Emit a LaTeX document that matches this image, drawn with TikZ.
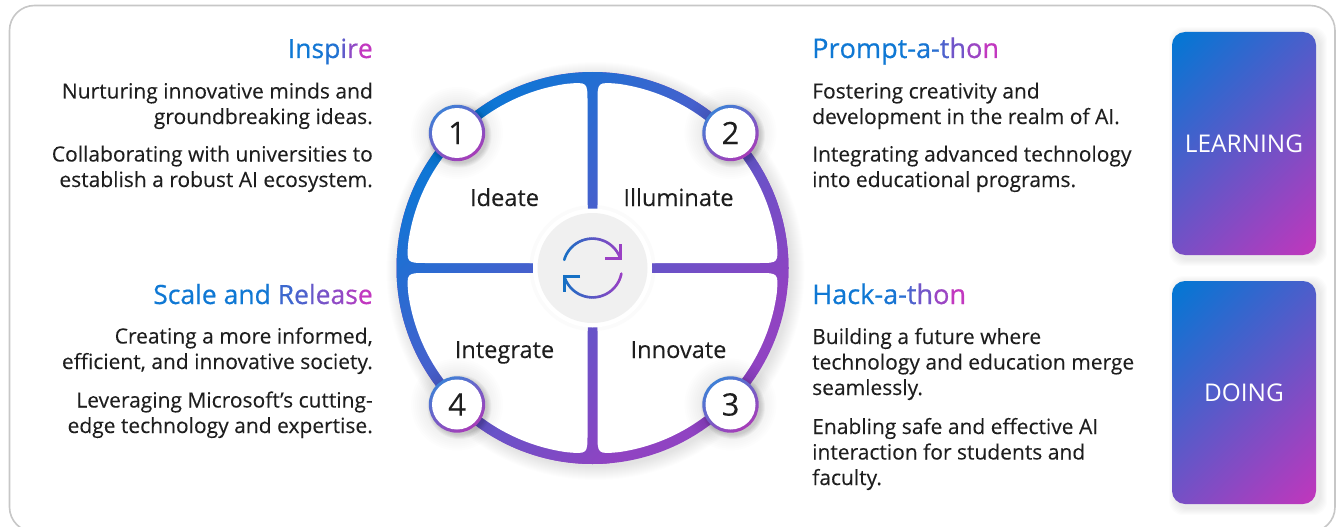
\documentclass[tikz,border=0pt]{standalone}
\usepackage{fontspec}
\setmainfont{Open Sans}
\newfontfamily\bodyfont[FakeBold=0.12]{Open Sans}
\newfontfamily\headfont[FakeBold=0.55]{Open Sans}
\usetikzlibrary{calc}
\definecolor{hb}{HTML}{0F78D4}
\definecolor{hm}{HTML}{C238C0}
\definecolor{ringa}{HTML}{0A78D6}
\definecolor{ringb}{HTML}{9043C2}
\definecolor{carda}{HTML}{0078D4}
\definecolor{cardb}{HTML}{C236BC}
\definecolor{smalla}{HTML}{3F7FD6}
\definecolor{smallb}{HTML}{A83CB8}
\definecolor{ink}{HTML}{1E1E1E}
\definecolor{discgray}{HTML}{F0F0F0}
\definecolor{iconblue}{HTML}{1670C4}
\definecolor{iconpurple}{HTML}{9A40C4}
\newcommand\gc[2]{{\color{hm!#1!hb}#2}}
% angled gradient inside the current clip: cx cy from to halfheight angle colA colB
\newcommand\anglegrad[8]{%
  \begin{scope}[transform canvas={rotate around={#6:(#1,#2)}}]
    \shade[left color=#7,right color=#8] ($(#1,#2)+(#3,-#5)$) rectangle ($(#1,#2)+(#4,#5)$);
  \end{scope}}
\newcommand\softcircle[4]{% x y r count
  \foreach \k in {1,...,#4}{\fill[black,opacity=.009] (#1,#2) circle[radius=#3+\k];}}
\newcommand\numbadge[4]{% name x y digit
  \foreach \k in {0,2,...,16}{\fill[black,opacity=.006] (#2,#3) circle[radius=30+\k];}
  \foreach \k in {1,...,5}{\fill[black,opacity=.03] (#2+2.5,#3-2.5) circle[radius=27+\k];}
  \begin{scope}
    \clip (#2,#3) circle[radius=28.2];
    \anglegrad{#2}{#3}{-28}{28}{40}{-55}{smalla}{smallb}
  \end{scope}
  \node[badge] (#1) at (#2,#3) {#4};}
\newcommand\stagecard[6]{% name x1 ytop x2 ybot text
  \foreach \k in {1,...,7}{\fill[black,opacity=.012,rounded corners=14] (#2+4-\k,#3-2+\k) rectangle (#4+4+\k,#5-4-\k);}
  \begin{scope}
    \clip[rounded corners=13] (#2,#3) rectangle (#4,#5);
    \anglegrad{#2/2+#4/2}{#3/2+#5/2}{-129}{129}{160}{-45}{carda}{cardb}
  \end{scope}
  \node[cardlabel] (#1) at (#2/2+#4/2,#3/2+#5/2) {#6};}
\tikzset{
  x=1pt,y=1pt,
  body/.style={inner sep=0pt,text=ink,font=\bodyfont\fontsize{21}{25.5}\selectfont},
  bodyleft/.style={body,anchor=base west,align=left},
  bodyright/.style={body,anchor=base east,align=right},
  headleft/.style={inner sep=0pt,anchor=base west,font=\headfont\fontsize{27.1}{28}\selectfont},
  headright/.style={inner sep=0pt,anchor=base east,font=\headfont\fontsize{26.5}{28}\selectfont},
  phase/.style={inner sep=0pt,anchor=base,text=ink,font=\bodyfont\fontsize{23.6}{26}\selectfont},
  badge/.style={circle,fill=white,inner sep=0pt,minimum size=50pt,text=ink,font=\bodyfont\fontsize{31}{32}\selectfont},
  cardlabel/.style={inner sep=0pt,text=white,font=\fontsize{24.4}{26}\selectfont},
  iconline/.style={line width=2.6pt,line cap=round,line join=miter},
}
\begin{document}
\begin{tikzpicture}
\useasboundingbox (0,0) rectangle (1341,-527);
\fill[white] (0,0) rectangle (1341,-527);
\begin{scope}
  \clip (0,0) rectangle (1341,-527);
  \draw[draw=black!22,line width=1.6pt,rounded corners=25] (9.5,-5.5) rectangle (1335,-532);
\end{scope}

% wheel shadow
\softcircle{595.5}{-271}{195}{14}
% gradient disc
\fill[ringb] (592.5,-268) circle[radius=196];
\begin{scope}
  \clip (592.5,-268) circle[radius=196];
  \anglegrad{592.5}{-268}{-200}{150}{230}{-45}{ringa}{ringb}
\end{scope}
% four white quadrants, each carrying its part of the faint hub halo
\foreach \a in {0,90,180,270}{
  \begin{scope}[shift={(592.5,-268)},rotate=\a]
    \clip (-5,5) -- (-5,166) .. controls (-5,186) .. (98:186)
      arc[start angle=98,end angle=172,radius=186pt]
      .. controls (-186,5) .. (-166,5) -- cycle;
    \fill[white] (-200,-200) rectangle (200,200);
    \fill[black!1.5] (0,0) circle[radius=63];
  \end{scope}
}
% centre disc
\fill[white] (592.5,-268) circle[radius=59.5];
\node[circle,fill=discgray,minimum size=110pt,inner sep=0pt] (hub) at (592.5,-268) {};
% recycle icon
\foreach \i in {0,...,35}{
  \pgfmathsetmacro\sa{164-\i*4.03}
  \pgfmathsetmacro\sb{164-(\i+1)*4.03}
  \pgfmathtruncatemacro\pc{(cos(\sa)+1)*50}
  \draw[iconline,color=iconpurple!\pc!iconblue] ($(hub)+(\sa:29.4)$) arc[start angle=\sa,end angle=\sb,radius=29.4pt];
}
\foreach \i in {0,...,35}{
  \pgfmathsetmacro\sa{-11-\i*4.25}
  \pgfmathsetmacro\sb{-11-(\i+1)*4.25}
  \pgfmathtruncatemacro\pc{(cos(\sa)+1)*50}
  \draw[iconline,color=iconpurple!\pc!iconblue] ($(hub)+(\sa:29.4)$) arc[start angle=\sa,end angle=\sb,radius=29.4pt];
}
\coordinate (ra) at ($(hub)+(12.5,9.5)$);
\coordinate (rb) at ($(hub)+(27.8,9.5)$);
\coordinate (rc) at ($(hub)+(27.8,24.5)$);
\draw[iconline,line cap=butt,color=iconpurple] (ra) -- (rb) -- (rc);
\coordinate (la) at ($(hub)+(-12.5,-8.5)$);
\coordinate (lb) at ($(hub)+(-27.8,-8.5)$);
\coordinate (lc) at ($(hub)+(-27.8,-23.5)$);
\draw[iconline,line cap=butt,color=iconblue] (la) -- (lb) -- (lc);

% phase labels
\node[phase] (ideate) at (504.5,-206) {Ideate};
\node[phase] (illuminate) at (678.5,-206) {Illuminate};
\node[phase] (integrate) at (504.5,-358) {Integrate};
\node[phase] (innovate) at (678.5,-358) {Innovate};

% number badges
\numbadge{n1}{457}{-133}{1}
\numbadge{n2}{730.5}{-133}{2}
\numbadge{n3}{730.5}{-404.5}{3}
\numbadge{n4}{457}{-404.5}{4}

% left column
\node[headright] (h1) at (373,-58) {\gc{0}{I}\gc{0}{n}\gc{2}{s}\gc{10}{p}\gc{45}{i}\gc{72}{r}\gc{100}{e}};
\node[bodyright] (t1a) at (373,-124) {Nurturing innovative minds and\\groundbreaking ideas.};
\node[bodyright] (t1b) at (373,-187) {Collaborating with universities to\\establish a robust AI ecosystem.};
\node[headright] (h4) at (373,-304) {\gc{0}{S}\gc{0}{c}\gc{0}{a}\gc{0}{l}\gc{0}{e} \gc{0}{a}\gc{0}{n}\gc{2}{d} \gc{25}{R}\gc{35}{e}\gc{48}{l}\gc{58}{e}\gc{72}{a}\gc{85}{s}\gc{100}{e}};
\node[bodyright] (t4a) at (373,-369) {Creating a more informed,\\efficient, and innovative society.};
\node[bodyright] (t4b) at (373,-433) {Leveraging Microsoft’s cutting-\\edge technology and expertise.};

% right column
\node[headleft] (h2) at (812,-58) {\gc{0}{P}\gc{0}{r}\gc{0}{o}\gc{0}{m}\gc{0}{p}\gc{0}{t}\gc{0}{-}\gc{5}{a}\gc{15}{-}\gc{35}{t}\gc{55}{h}\gc{78}{o}\gc{100}{n}};
\node[bodyleft] (t2a) at (812,-124) {Fostering creativity and\\development in the realm of AI.};
\node[bodyleft] (t2b) at (812,-187) {Integrating advanced technology\\into educational programs.};
\node[headleft] (h3) at (812,-304) {\gc{0}{H}\gc{0}{a}\gc{0}{c}\gc{0}{k}\gc{0}{-}\gc{5}{a}\gc{15}{-}\gc{35}{t}\gc{55}{h}\gc{78}{o}\gc{100}{n}};
\node[bodyleft] (t3a) at (812,-395) {Building a future where\\technology and education merge\\seamlessly.};
\node[bodyleft] (t3b) at (812,-485) {Enabling safe and effective AI\\interaction for students and\\faculty.};

% stage cards
\stagecard{learning}{1172}{-32}{1316}{-255}{LEARNING}
\stagecard{doing}{1172}{-281}{1316}{-504}{DOING}
\end{tikzpicture}
\end{document}
